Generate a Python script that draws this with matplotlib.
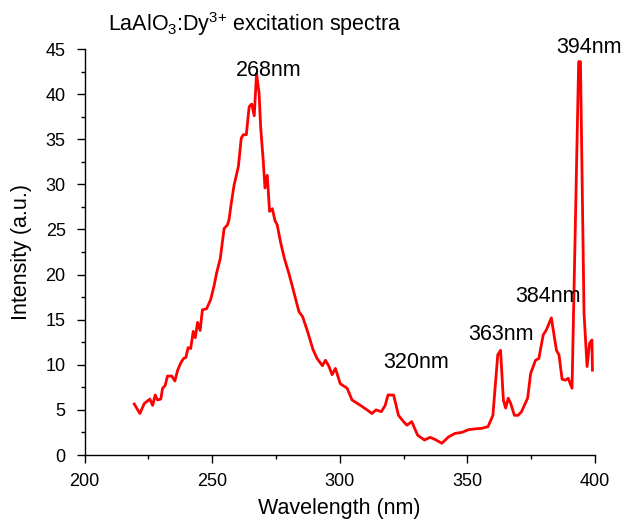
import matplotlib
matplotlib.use("Agg")
import matplotlib.pyplot as plt
from matplotlib.ticker import MultipleLocator

plt.rcParams['font.family'] = ['Liberation Sans', 'DejaVu Sans']
plt.rcParams['mathtext.fontset'] = 'custom'
plt.rcParams['mathtext.rm'] = 'Liberation Sans'
plt.rcParams['mathtext.it'] = 'Liberation Sans:italic'

wavelength = [219.5, 221.7, 223.4, 225.6, 226.7, 227.7, 228.6, 229.9, 230.6, 231.6,
              232.5, 234.2, 235.4, 236.5, 237.7, 238.8, 239.7, 240.6, 241.6, 242.6,
              243.4, 244.3, 245.3, 246.2, 247.8, 249.4, 250.8, 251.7, 253.2, 254.7,
              256.0, 256.6, 257.5, 258.6, 260.3, 261.4, 262.2, 263.4, 264.5, 265.5,
              266.5, 267.4, 268.4, 269.0, 270.0, 270.7, 271.6, 272.5, 273.6, 274.6,
              275.5, 276.8, 278.3, 280.1, 281.6, 284.0, 285.5, 287.6, 289.5, 291.1,
              293.2, 294.4, 295.7, 297.0, 298.3, 300.2, 302.9, 304.8, 308.1, 310.7,
              312.6, 314.2, 316.3, 317.8, 318.9, 321.1, 323.0, 325.0, 326.3, 328.2,
              330.5, 333.2, 335.4, 337.3, 340.0, 342.6, 345.2, 347.8, 350.4, 353.0,
              355.6, 358.1, 360.0, 361.9, 363.0, 364.1, 365.0, 366.0, 367.0, 368.4,
              369.9, 371.2, 373.6, 374.8, 376.7, 378.0, 379.7, 381.0, 382.9, 384.9,
              385.9, 387.1, 388.4, 389.5, 391.0, 393.6, 394.3, 395.7, 396.9, 397.9,
              398.8, 399.0]
intensity = [5.65, 4.6, 5.7, 6.2, 5.5, 6.65, 6.1, 6.2, 7.4, 7.7,
             8.75, 8.75, 8.2, 9.4, 10.2, 10.7, 10.8, 11.9, 11.8, 13.7,
             13.0, 14.7, 13.8, 16.1, 16.2, 17.2, 18.8, 20.1, 21.8, 25.1,
             25.5, 26.05, 27.9, 29.9, 32.0, 35.1, 35.5, 35.5, 38.6, 38.9,
             37.6, 42.3, 40.1, 36.4, 32.7, 29.6, 31.0, 27.0, 27.3, 26.0,
             25.5, 23.6, 21.8, 20.1, 18.5, 15.9, 15.3, 13.5, 11.7, 10.7,
             9.9, 10.5, 9.87, 8.9, 9.6, 7.9, 7.4, 6.1, 5.5, 5.0,
             4.6, 5.0, 4.8, 5.5, 6.65, 6.65, 4.4, 3.7, 3.3, 3.7,
             2.2, 1.66, 1.96, 1.73, 1.3, 2.0, 2.4, 2.5, 2.8, 2.9,
             2.95, 3.15, 4.4, 11.1, 11.6, 6.1, 5.2, 6.3, 5.7, 4.4,
             4.4, 4.8, 6.3, 9.05, 10.5, 10.7, 13.3, 13.9, 15.2, 11.6,
             11.1, 8.4, 8.3, 8.5, 7.4, 43.6, 43.6, 15.7, 9.8, 12.4,
             12.75, 9.4]

peak_labels = ["268nm", "320nm", "363nm", "384nm", "394nm"]
peak_x = [272.3, 329.9, 363.1, 381.5, 397.5]
peak_y = [42.0, 9.65, 12.75, 16.96, 44.57]

title = "LaAlO$_\\mathregular{3}$:Dy$^{\\mathregular{3{+}}}$ excitation spectra"

fig = plt.figure(figsize=(6.26, 5.22), dpi=100)
ax = fig.add_axes([84.5 / 626, 1 - 455 / 522, 510.5 / 626, 406 / 522])

ax.plot(wavelength, intensity, color='#ff0000', linewidth=2.0)

ax.set_xlim(200, 400)
ax.set_ylim(0, 45)
ax.xaxis.set_major_locator(MultipleLocator(50))
ax.xaxis.set_minor_locator(MultipleLocator(25))
ax.yaxis.set_major_locator(MultipleLocator(5))
ax.yaxis.set_minor_locator(MultipleLocator(2.5))
ax.tick_params(which='major', direction='out', length=6, width=1, labelsize=13)
ax.tick_params(axis='y', which='major', pad=7.5)
ax.tick_params(axis='x', which='major', pad=7)
ax.tick_params(which='minor', direction='out', length=3, width=1)
for s in ['top', 'right']:
    ax.spines[s].set_visible(False)
for s in ['left', 'bottom']:
    ax.spines[s].set_linewidth(1)

ax.set_xlabel("Wavelength (nm)", fontsize=15.5, labelpad=6)
ax.set_ylabel("Intensity (a.u.)", fontsize=15.5, labelpad=10)

for lab, x, y in zip(peak_labels, peak_x, peak_y):
    ax.text(x, y, lab, fontsize=15.5, ha='center', va='baseline', clip_on=False)

fig.text(108 / 626, 1 - 31 / 522, title, fontsize=15.5, ha='left', va='baseline')

fig.savefig("out.png", dpi=100)
